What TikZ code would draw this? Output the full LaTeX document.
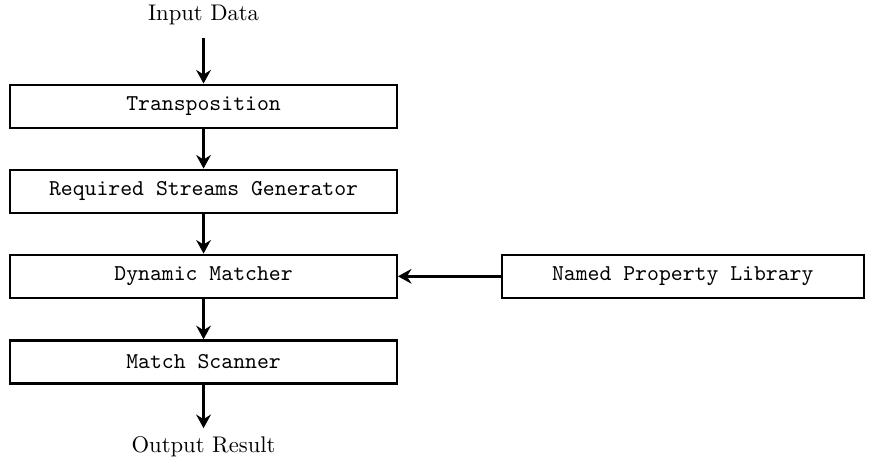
\documentclass[tikz,border=0pt]{standalone}
\usepackage{tikz}
\usetikzlibrary{arrows.meta, positioning}

\begin{document}
\begin{tikzpicture}[
    stage/.style={draw, line width=1pt, minimum width=6cm, minimum height=0.67cm, align=center, font=\ttfamily},
    libbox/.style={stage, minimum width=5.62cm},
    io/.style={font=\normalsize},
    flow/.style={-{Stealth[length=6pt,width=6.5pt,inset=2pt]}, line width=1.5pt},
]
    \useasboundingbox (0,0) rectangle (13.6,7.17);

    \node[io] (input) at (3.16,6.93) {Input Data};
    \node[stage] (trans) at (3.16,5.52) {Transposition};
    \node[stage] (reqgen) at (3.16,4.2) {Required Streams Generator};
    \node[stage] (matcher) at (3.16,2.88) {Dynamic Matcher};
    \node[stage] (scanner) at (3.16,1.55) {Match Scanner};
    \node[io] (output) at (3.16,0.24) {Output Result};
    \node[libbox] (lib) at (10.6,2.88) {Named Property Library};

    \draw[flow] ([yshift=-2pt]input.south) -- (trans);
    \draw[flow] (trans) -- (reqgen);
    \draw[flow] (reqgen) -- (matcher);
    \draw[flow] (matcher) -- (scanner);
    \draw[flow] (scanner) -- (output);
    \draw[flow] (lib) -- (matcher);
\end{tikzpicture}
\end{document}
